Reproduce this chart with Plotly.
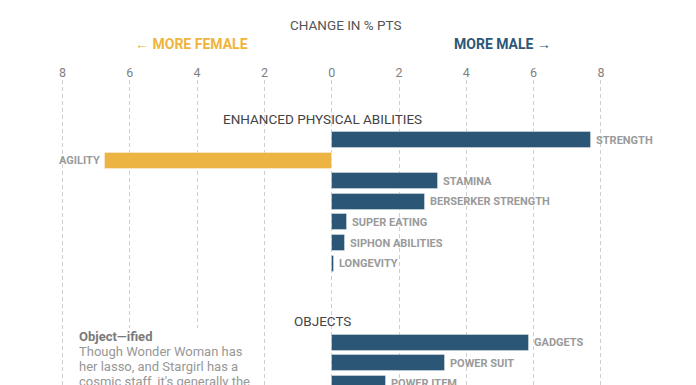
import plotly.graph_objects as go

# ---- data ----
physical_labels = ["STRENGTH", "AGILITY", "STAMINA", "BERSERKER STRENGTH",
                   "SUPER EATING", "SIPHON ABILITIES", "LONGEVITY"]
physical_values = [7.7, -6.75, 3.15, 2.76, 0.46, 0.4, 0.07]

object_labels = ["GADGETS", "POWER SUIT", "POWER ITEM"]
object_values = [5.85, 3.37, 1.6]

section_titles = ["ENHANCED PHYSICAL ABILITIES", "OBJECTS"]

tick_values = [-8, -6, -4, -2, 0, 2, 4, 6, 8]
tick_labels = ["8", "6", "4", "2", "0", "2", "4", "6", "8"]

note_title = "Object—ified"
note_lines = ["Though Wonder Woman has",
              "her lasso, and Stargirl has a",
              "cosmic staff, it's generally the"]

MALE = "#2b5675"
FEMALE = "#ebb443"
LABEL_GREY = "#9a9a9a"
FONT = "Roboto, Arial, sans-serif"

# ---- layout of rows (row units) ----
SECTION_GAP = 3.84
sections = [(section_titles[0], physical_labels, physical_values),
            (section_titles[1], object_labels, object_values)]

ys, xs, labs, header_pos = [], [], [], []
start = 0.0
for title, labels, vals in sections:
    header_pos.append((title, start - 1.04))
    for i, (lab, v) in enumerate(zip(labels, vals)):
        ys.append(start + i)
        xs.append(v)
        labs.append(lab)
    start = start + len(labels) - 1 + SECTION_GAP

colors = [MALE if v >= 0 else FEMALE for v in xs]

fig = go.Figure()
fig.add_trace(go.Bar(
    x=xs, y=ys, orientation="h", width=0.78,
    marker=dict(color=colors, line=dict(color="rgba(255,255,255,0.35)", width=1)),
    hoverinfo="skip", showlegend=False,
))

label_font = dict(family=FONT, size=11, color=LABEL_GREY, weight="bold")
for v, y, t in zip(xs, ys, labs):
    fig.add_annotation(x=v, y=y, xref="x", yref="y", text=t, showarrow=False,
                       xanchor="left" if v >= 0 else "right", yanchor="middle",
                       xshift=3 if v >= 0 else -3, font=label_font)

for title, yp in header_pos:
    fig.add_annotation(x=-0.28, y=yp, xref="x", yref="y", text=title, showarrow=False,
                       font=dict(family=FONT, size=13.5, color="#444"),
                       xanchor="center", yanchor="middle")

# page-pixel helpers (page has an 8px body margin)
PAGE_TOP, PAGE_H = 80, 385
def py(pix):
    return (PAGE_H - pix) / (PAGE_H - PAGE_TOP)

fig.add_annotation(x=0.42, y=py(25), xref="x", yref="paper", text="CHANGE IN % PTS",
                   showarrow=False, font=dict(family=FONT, size=13.5, color="#555"),
                   xanchor="center", yanchor="middle")
fig.add_annotation(x=-2.42, y=py(44), xref="x", yref="paper", text="← MORE FEMALE",
                   showarrow=False, font=dict(family=FONT, size=14, color="#f0b43c", weight="bold"),
                   xanchor="right", yanchor="middle")
fig.add_annotation(x=3.57, y=py(44), xref="x", yref="paper", text="MORE MALE →",
                   showarrow=False, font=dict(family=FONT, size=14, color="#2c5877", weight="bold"),
                   xanchor="left", yanchor="middle")

# white box behind the side note (covers gridlines)
fig.add_shape(type="rect", xref="x", yref="paper", x0=-7.83, x1=-2.19, y0=0, y1=py(328),
              fillcolor="white", line=dict(width=0), layer="above")
fig.add_annotation(x=-7.57, y=py(336), xref="x", yref="paper", text="<b>" + note_title + "</b>",
                   showarrow=False, xanchor="left", yanchor="middle",
                   font=dict(family=FONT, size=13, color="#7a7a7a"))
for i, line in enumerate(note_lines):
    fig.add_annotation(x=-7.57, y=py(351 + 15 * i), xref="x", yref="paper", text=line,
                       showarrow=False, xanchor="left", yanchor="middle",
                       font=dict(family=FONT, size=13, color="#979797"))

fig.update_xaxes(range=[-9.62, 10.826], side="top", tickvals=tick_values, ticktext=tick_labels,
                 showgrid=True, gridcolor="#cfcfcf", griddash="4px,3px", gridwidth=1,
                 zeroline=False, showline=False, ticks="",
                 tickfont=dict(family=FONT, size=12.5, color="#808080"),
                 fixedrange=True)
fig.update_yaxes(range=[11.893, -2.913], visible=False, showgrid=False, zeroline=False, fixedrange=True)

fig.update_layout(width=688, height=377, margin=dict(l=0, r=0, t=72, b=0),
                  plot_bgcolor="white", paper_bgcolor="white", bargap=0)

fig.write_html("out.html")
